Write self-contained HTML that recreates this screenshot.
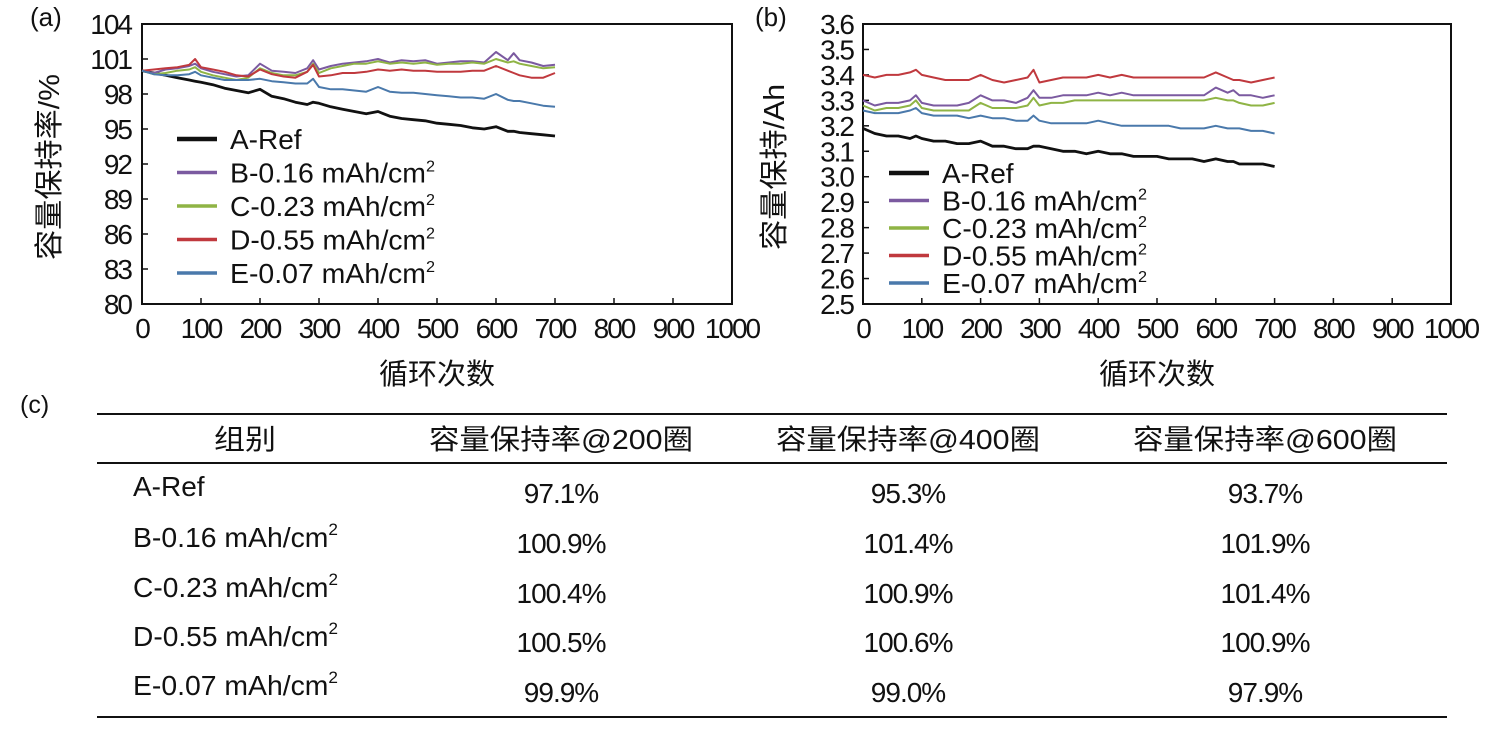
<!DOCTYPE html>
<html><head><meta charset="utf-8">
<style>
body{margin:0;background:#fff;width:1503px;height:735px;overflow:hidden;font-family:"Liberation Sans","Noto Sans CJK SC",sans-serif;}
svg text{font-family:"Liberation Sans","Noto Sans CJK SC",sans-serif;fill:#111;}
</style></head>
<body>
<svg id="fig" width="1503" height="735" xmlns="http://www.w3.org/2000/svg">
<g id="chartA"></g>
<g id="chartB"></g>
<g id="table">
  <line x1="97" y1="414" x2="1447" y2="414" stroke="#111" stroke-width="2"/>
  <line x1="97" y1="463" x2="1447" y2="463" stroke="#111" stroke-width="2"/>
  <line x1="97" y1="717" x2="1447" y2="717" stroke="#111" stroke-width="2"/>
  <text x="20" y="413" font-size="25">(c)</text>
  <g font-size="28" text-anchor="middle">
    <text x="245" y="449" textLength="62" lengthAdjust="spacingAndGlyphs">组别</text>
    <text x="561" y="449" textLength="264" lengthAdjust="spacingAndGlyphs">容量保持率@200圈</text>
    <text x="908" y="449" textLength="264" lengthAdjust="spacingAndGlyphs">容量保持率@400圈</text>
    <text x="1265" y="449" textLength="264" lengthAdjust="spacingAndGlyphs">容量保持率@600圈</text>
  </g>
  <g font-size="28" id="tbody"></g>
</g>
</svg>
<script>
const NS="http://www.w3.org/2000/svg";
function mk(tag,attrs,parent){const e=document.createElementNS(NS,tag);for(const k in attrs)e.setAttribute(k,attrs[k]);parent.appendChild(e);return e;}

// ---- data ----
const cycles=[0,20,40,60,80,90,100,120,140,160,180,200,220,240,260,280,290,300,320,340,360,380,400,420,440,460,480,500,520,540,560,580,600,620,630,640,660,680,700];
const seriesNames=["A-Ref","B-0.16 mAh/cm","C-0.23 mAh/cm","D-0.55 mAh/cm","E-0.07 mAh/cm"];
const retA=[100,99.8,99.6,99.4,99.2,99.1,99.0,98.8,98.5,98.3,98.1,98.4,97.8,97.6,97.3,97.1,97.3,97.2,96.9,96.7,96.5,96.3,96.5,96.1,95.9,95.8,95.7,95.5,95.4,95.3,95.1,95.0,95.2,94.8,94.8,94.7,94.6,94.5,94.4];
const retB=[100.0,99.8,100.1,100.2,100.4,100.6,100.2,99.9,99.7,99.5,99.6,100.6,100.0,99.9,99.8,100.2,100.9,100.1,100.4,100.6,100.7,100.8,101.0,100.7,100.9,100.8,100.9,100.6,100.7,100.8,100.8,100.7,101.6,100.9,101.5,100.9,100.7,100.4,100.5];
const retC=[100.0,99.7,99.8,100.0,100.1,100.3,99.9,99.6,99.4,99.2,99.4,100.2,99.8,99.6,99.6,99.9,100.6,99.8,100.2,100.4,100.6,100.6,100.8,100.6,100.7,100.6,100.7,100.5,100.6,100.6,100.7,100.6,101.0,100.7,100.8,100.6,100.4,100.2,100.3];
const retD=[100.0,100.1,100.2,100.3,100.5,101.0,100.3,100.1,99.9,99.6,99.5,100.1,99.7,99.5,99.4,99.9,100.5,99.5,99.6,99.8,99.8,99.9,100.1,100.0,100.1,100.0,100.0,99.9,99.9,99.9,100.0,100.0,100.4,100.0,99.8,99.6,99.4,99.4,99.8];
const retE=[100.0,99.7,99.6,99.6,99.7,99.9,99.6,99.4,99.2,99.2,99.2,99.3,99.1,99.0,98.9,98.9,99.3,98.6,98.4,98.4,98.3,98.2,98.6,98.2,98.1,98.1,98.0,97.9,97.8,97.7,97.7,97.6,98.0,97.5,97.4,97.4,97.2,97.0,96.9];
const capA=[3.19,3.17,3.16,3.16,3.15,3.16,3.15,3.14,3.14,3.13,3.13,3.14,3.12,3.12,3.11,3.11,3.12,3.12,3.11,3.10,3.10,3.09,3.10,3.09,3.09,3.08,3.08,3.08,3.07,3.07,3.07,3.06,3.07,3.06,3.06,3.05,3.05,3.05,3.04];
const capB=[3.30,3.28,3.29,3.29,3.30,3.32,3.29,3.28,3.28,3.28,3.29,3.32,3.30,3.30,3.29,3.31,3.34,3.31,3.31,3.32,3.32,3.32,3.33,3.32,3.33,3.32,3.32,3.32,3.32,3.32,3.32,3.32,3.35,3.33,3.34,3.32,3.32,3.31,3.32];
const capC=[3.28,3.26,3.27,3.27,3.28,3.30,3.27,3.26,3.26,3.26,3.26,3.29,3.27,3.27,3.27,3.28,3.31,3.28,3.29,3.29,3.30,3.30,3.30,3.30,3.30,3.30,3.30,3.30,3.30,3.30,3.30,3.30,3.31,3.30,3.30,3.29,3.28,3.28,3.29];
const capD=[3.40,3.39,3.40,3.40,3.41,3.42,3.40,3.39,3.38,3.38,3.38,3.40,3.38,3.37,3.38,3.39,3.42,3.37,3.38,3.39,3.39,3.39,3.40,3.39,3.40,3.39,3.39,3.39,3.39,3.39,3.39,3.39,3.41,3.39,3.38,3.38,3.37,3.38,3.39];
const capE=[3.26,3.25,3.25,3.25,3.26,3.27,3.25,3.24,3.24,3.24,3.23,3.24,3.23,3.23,3.22,3.22,3.24,3.22,3.21,3.21,3.21,3.21,3.22,3.21,3.20,3.20,3.20,3.20,3.20,3.19,3.19,3.19,3.20,3.19,3.19,3.19,3.18,3.18,3.17];
const xTicks=[0,100,200,300,400,500,600,700,800,900,1000];
const yTicksA=[80,83,86,89,92,95,98,101,104];
const yTicksB=[2.5,2.6,2.7,2.8,2.9,3.0,3.1,3.2,3.3,3.4,3.5,3.6];
const colors=["#111111","#7b5aa0","#8fb445","#c0393e","#4a79ab"];
const tableRows=["A-Ref","B-0.16 mAh/cm","C-0.23 mAh/cm","D-0.55 mAh/cm","E-0.07 mAh/cm"];
const tab200=["97.1%","100.9%","100.4%","100.5%","99.9%"];
const tab400=["95.3%","101.4%","100.9%","100.6%","99.0%"];
const tab600=["93.7%","101.9%","101.4%","100.9%","97.9%"];

function drawChart(g,cfg){
  const {L,R,T,B,ymin,ymax,yTicks,series,ytitle,ytitleX,ytitleLen,legX,legY,legDy,panel,panelX,fmt,labelR}=cfg;
  const xs=v=>L+(v-0)/(1000-0)*(R-L);
  const ys=v=>B-(v-ymin)/(ymax-ymin)*(B-T);
  const frame=mk('rect',{x:L,y:T,width:R-L,height:B-T,fill:'none',stroke:'#111','stroke-width':2},g);
  
  
  xTicks.forEach(t=>{
    const l=mk('line',{x1:xs(t),x2:xs(t),y1:B,y2:B-6,stroke:'#111','stroke-width':1.5},g);
    
    
    const tx=mk('text',{x:xs(t),y:B+34,'font-size':28,'text-anchor':'middle','letter-spacing':'-2'},g);
    tx.textContent=t;
    
    
  });
  yTicks.forEach(t=>{
    const l=mk('line',{x1:L,x2:L+6,y1:ys(t),y2:ys(t),stroke:'#111','stroke-width':1.5},g);
    
    
    const tx=mk('text',{x:labelR,y:ys(t)+10,'font-size':28,'text-anchor':'end','letter-spacing':'-2'},g);
    tx.textContent=fmt(t);
    
    
  });
  series.forEach((s,i)=>{
    const d=cycles.map((c,j)=>(j?'L':'M')+xs(c).toFixed(1)+','+ys(s[j]).toFixed(1)).join(' ');
    const p=mk('path',{d:d,fill:'none',stroke:colors[i],'stroke-width':i?2:2.8,'stroke-linejoin':'round'},g);
    
    
  });
  seriesNames.forEach((n,i)=>{
    const y=legY+i*legDy;
    const l=mk('line',{x1:legX,x2:legX+40,y1:y,y2:y,stroke:colors[i],'stroke-width':i?3.5:4.5},g);
    
    
    const attrs={x:legX+53,y:y+10,'font-size':28};
    if(i){attrs.textLength=205;attrs.lengthAdjust='spacingAndGlyphs';}
    const tx=mk('text',attrs,g);
    tx.textContent=n;
    
    
    if(i){const sp=mk('tspan',{'font-size':16,dy:-11},tx);sp.textContent='2';}
  });
  const yt=mk('text',{transform:`translate(${ytitleX},${(T+B)/2+3}) rotate(-90)`,'font-size':29,'text-anchor':'middle',textLength:ytitleLen,lengthAdjust:'spacingAndGlyphs'},g);
  yt.textContent=ytitle;
  
  
  const xt=mk('text',{x:(L+R)/2,y:384,'font-size':29,'text-anchor':'middle'},g);
  xt.textContent='循环次数';
  
  
  const pl=mk('text',{x:panelX,y:26,'font-size':26},g);
  pl.textContent=panel;
  
  
}
drawChart(document.getElementById('chartA'),{L:142,R:732,T:24,B:304,ymin:80,ymax:104,yTicks:yTicksA,series:[retA,retB,retC,retD,retE],ytitle:'容量保持率/%',ytitleX:59,ytitleLen:186,legX:177,legY:139,legDy:33.5,panel:'(a)',panelX:30,fmt:t=>t,labelR:131});
drawChart(document.getElementById('chartB'),{L:863,R:1451,T:24,B:304,ymin:2.5,ymax:3.6,yTicks:yTicksB,series:[capA,capB,capC,capD,capE],ytitle:'容量保持/Ah',ytitleX:784,ytitleLen:166,legX:889,legY:173,legDy:27.5,panel:'(b)',panelX:755,fmt:t=>t.toFixed(1),labelR:853});

const tb=document.getElementById('tbody');
const labelY=[496,547,597,646,695];
const valY=[503,553,603,652,702];
tableRows.forEach((r,i)=>{
  const attrs={x:133,y:labelY[i]};
  if(i){attrs.textLength=205;attrs.lengthAdjust='spacingAndGlyphs';}
  const t=mk('text',attrs,tb);
  t.textContent=r;
  
  
  if(i){const sp=mk('tspan',{'font-size':17,dy:-12},t);sp.textContent='2';}
  [[tab200,561],[tab400,908],[tab600,1265]].forEach(([arr,x])=>{
    const v=mk('text',{x:x,y:valY[i],'text-anchor':'middle','letter-spacing':'-1'},tb);
    v.textContent=arr[i];
    
    
  });
});
</script>
</body></html>
